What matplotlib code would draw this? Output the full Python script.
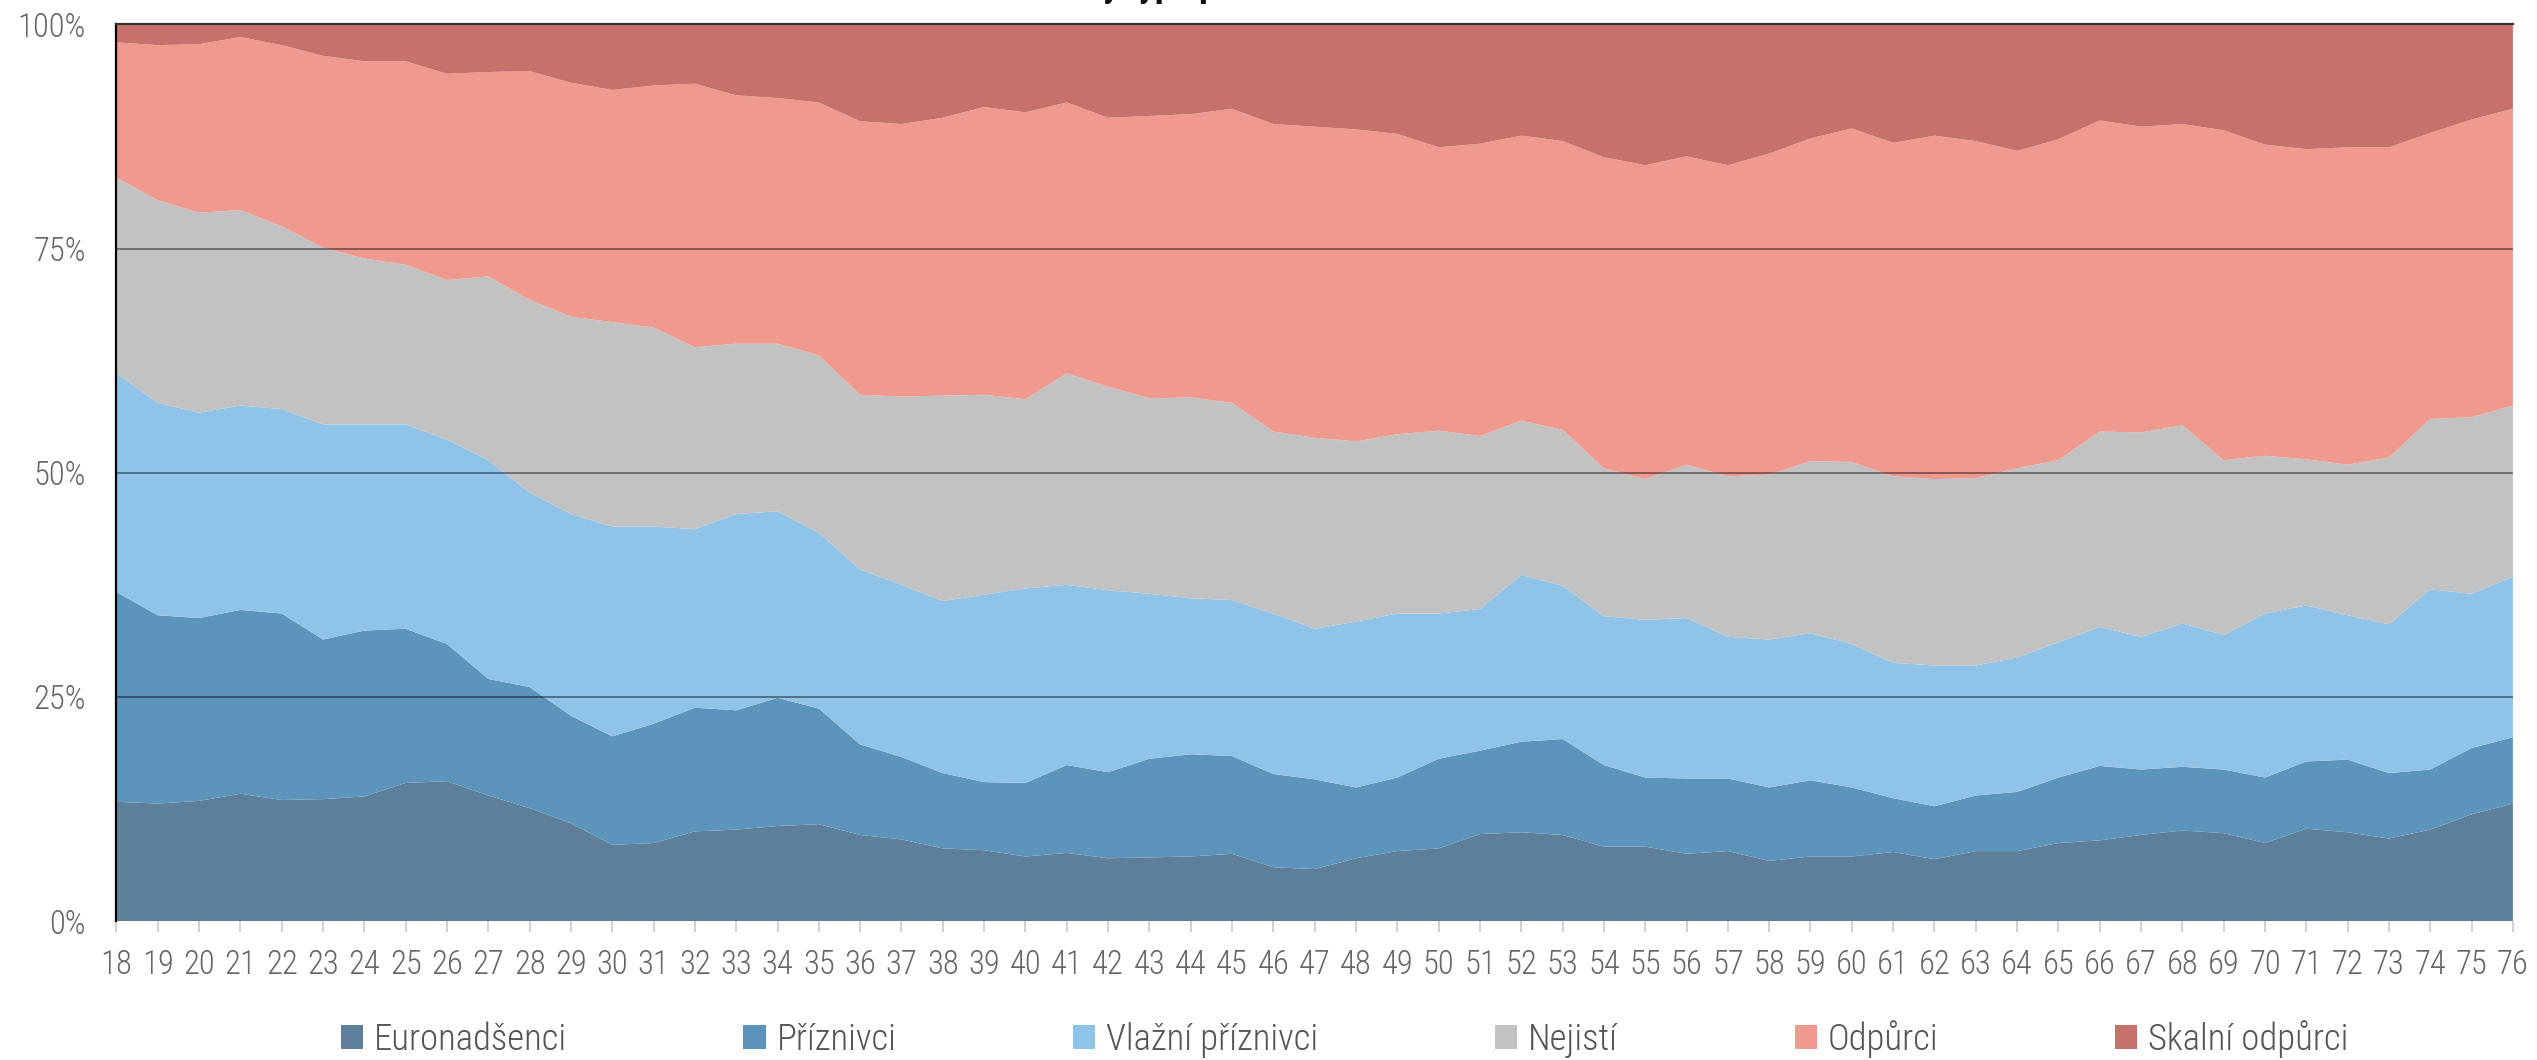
import matplotlib
matplotlib.use("Agg")
import matplotlib.pyplot as plt
from matplotlib import font_manager
import numpy as np

# age groups and shares (%) of each attitude type
ages = list(range(18, 77))

euronadsenci = [13.3, 13.1, 13.4, 14.2, 13.5, 13.6, 13.9, 15.4, 15.6, 14.0,
                12.6, 10.9, 8.5, 8.7, 10.0, 10.2, 10.6, 10.8, 9.6, 9.1,
                8.1, 7.9, 7.2, 7.6, 7.0, 7.1, 7.2, 7.5, 6.0, 5.8,
                7.0, 7.8, 8.1, 9.7, 9.9, 9.6, 8.3, 8.3, 7.5, 7.8,
                6.7, 7.2, 7.2, 7.7, 6.9, 7.8, 7.8, 8.7, 9.0, 9.6,
                10.1, 9.8, 8.7, 10.3, 9.9, 9.2, 10.2, 11.9, 13.1]
priznivci = [23.4, 21.0, 20.4, 20.5, 20.8, 17.8, 18.5, 17.2, 15.3, 13.0,
             13.5, 12.0, 12.1, 13.3, 13.8, 13.3, 14.3, 12.9, 10.1, 9.2,
             8.4, 7.6, 8.2, 9.8, 9.6, 11.0, 11.4, 10.9, 10.4, 10.0,
             7.9, 8.2, 10.0, 9.3, 10.1, 10.7, 9.1, 7.7, 8.4, 8.1,
             8.2, 8.5, 7.7, 6.0, 5.9, 6.2, 6.6, 7.3, 8.3, 7.3,
             7.1, 7.1, 7.3, 7.5, 8.1, 7.3, 6.7, 7.4, 7.4]
vlazni = [24.4, 23.7, 22.9, 22.8, 22.8, 24.0, 23.0, 22.8, 22.8, 24.4,
          21.7, 22.5, 23.4, 22.0, 19.9, 21.9, 20.8, 19.6, 19.5, 19.2,
          19.2, 20.9, 21.7, 20.1, 20.3, 18.4, 17.4, 17.4, 17.9, 16.8,
          18.5, 18.3, 16.2, 15.8, 18.6, 17.1, 16.6, 17.6, 17.9, 15.8,
          16.5, 16.4, 16.0, 15.1, 15.7, 14.5, 15.0, 15.1, 15.5, 14.8,
          16.0, 15.0, 18.3, 17.4, 16.1, 16.6, 20.1, 17.2, 17.9]
nejisti = [21.8, 22.6, 22.3, 21.8, 20.4, 19.7, 18.5, 17.8, 17.8, 20.5,
           21.5, 22.0, 22.8, 22.2, 20.3, 19.0, 18.7, 19.8, 19.5, 21.0,
           22.9, 22.3, 21.1, 23.6, 22.7, 21.8, 22.4, 22.0, 20.3, 21.3,
           20.1, 20.0, 20.4, 19.3, 17.2, 17.4, 16.5, 15.7, 17.1, 17.9,
           18.4, 19.2, 20.3, 20.8, 20.8, 20.9, 21.1, 20.3, 21.8, 22.8,
           22.1, 19.5, 17.6, 16.3, 16.8, 18.6, 19.0, 19.7, 19.1]
odpurci = [15.1, 17.3, 18.8, 19.3, 20.2, 21.4, 22.0, 22.7, 23.0, 22.8,
           25.5, 26.1, 25.9, 27.0, 29.4, 27.7, 27.4, 28.2, 30.5, 30.4,
           31.0, 32.1, 32.0, 30.2, 30.0, 31.5, 31.6, 32.8, 34.3, 34.7,
           34.8, 33.5, 31.6, 32.6, 31.8, 32.2, 34.7, 35.0, 34.4, 34.7,
           35.8, 36.0, 37.2, 37.2, 38.3, 37.6, 35.4, 35.8, 34.7, 34.1,
           33.6, 36.8, 34.7, 34.6, 35.4, 34.6, 31.9, 33.2, 33.1]
skalni = [2.0, 2.3, 2.2, 1.4, 2.3, 3.5, 4.1, 4.1, 5.5, 5.3,
          5.2, 6.5, 7.3, 6.8, 6.6, 7.9, 8.2, 8.7, 10.8, 11.1,
          10.4, 9.2, 9.8, 8.7, 10.4, 10.2, 10.0, 9.4, 11.1, 11.4,
          11.7, 12.2, 13.7, 13.3, 12.4, 13.0, 14.8, 15.7, 14.7, 15.7,
          14.4, 12.7, 11.6, 13.2, 12.4, 13.0, 14.1, 12.8, 10.7, 11.4,
          11.1, 11.8, 13.4, 13.9, 13.7, 13.7, 12.1, 10.6, 9.4]

labels = ["Euronadšenci", "Příznivci", "Vlažní příznivci", "Nejistí", "Odpůrci", "Skalní odpůrci"]
colors = ["#5e7f99", "#5d94bb", "#8fc4e8", "#c2c2c2", "#f0998f", "#c6716a"]

# condensed font if we have one
names = {f.name for f in font_manager.fontManager.ttflist}
fam = "DejaVu Sans"
for cand in ["Roboto Condensed", "Liberation Sans Narrow", "Roboto"]:
    if cand in names:
        fam = cand
        break
plt.rcParams["font.family"] = [fam, "DejaVu Sans"]

fig = plt.figure(figsize=(25.37, 10.6), dpi=100)
ax = fig.add_axes([0.0459, 0.1311, 0.9446, 0.8458])

series = [euronadsenci, priznivci, vlazni, nejisti, odpurci, skalni]
ax.stackplot(ages, *series, colors=colors, labels=labels, linewidth=0)

ax.set_xlim(18, 76)
ax.set_ylim(0, 100)

# grid lines drawn on top of the areas
for v in [25, 50, 75]:
    ax.axhline(v, color="black", alpha=0.5, linewidth=1.2, zorder=5)

ax.set_yticks([0, 25, 50, 75, 100])
ax.set_yticklabels(["0%", "25%", "50%", "75%", "100%"])
ax.set_xticks(ages)
ax.set_xticklabels([str(a) for a in ages])

ax.tick_params(axis="y", length=0, pad=22, labelsize=23.5, labelcolor="#666666")
ax.tick_params(axis="x", length=8, width=1.5, color="#d3d3d3", pad=12,
               labelsize=23.5, labelcolor="#666666")
for lab in ax.get_xticklabels() + ax.get_yticklabels():
    lab.set_fontweight("light")

ax.spines["right"].set_visible(False)
ax.spines["bottom"].set_visible(False)
ax.spines["left"].set_color("black")
ax.spines["left"].set_linewidth(1.6)
ax.spines["top"].set_color("#333333")
ax.spines["top"].set_linewidth(1.6)
ax.spines["left"].set_zorder(6)
ax.spines["top"].set_zorder(6)

leg = fig.legend(loc="center", bbox_to_anchor=(0.530, 0.0198), ncol=6, frameon=False,
                 handlelength=0.6, handleheight=0.6, handletextpad=0.3,
                 columnspacing=4.8, labelcolor="#555555",
                 prop={"family": [fam, "DejaVu Sans"], "weight": "light", "size": 26.5})

# title is cut off at the top edge, only descenders stay visible
fig.text(0.47, 1.004, "Podíly typů podle věku", ha="center", va="baseline",
         fontsize=26, fontweight="bold", color="#111111")

fig.savefig("out.png", dpi=100)
